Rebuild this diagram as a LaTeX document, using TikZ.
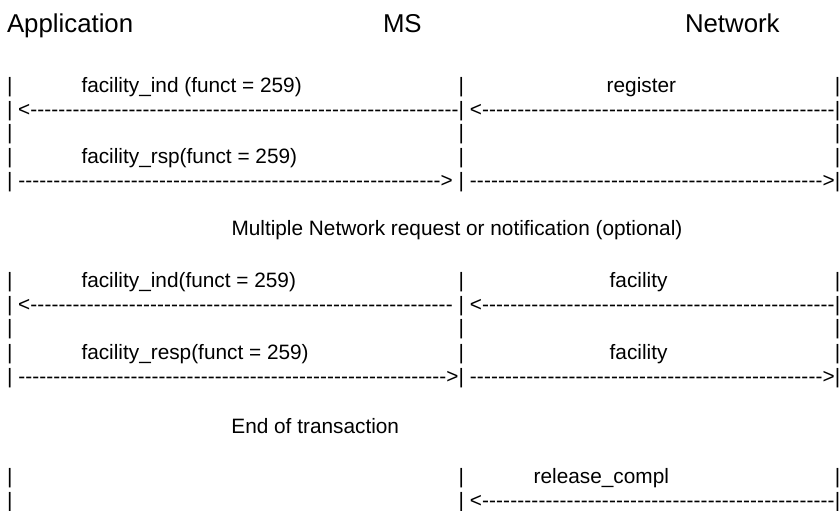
\documentclass[tikz,border=0pt]{standalone}
\usepackage{fontspec}
\setmainfont{Liberation Sans}
\newcommand\bodyfont{\fontsize{20.8bp}{24bp}\selectfont}
\newcommand\headfont{\fontsize{25.8bp}{30bp}\selectfont}
\newcommand\dashrun[1]{\hbox to #1bp{\xleaders\hbox{-}\hfill}}
\begin{document}
\begin{tikzpicture}[x=1bp,y=-1bp,
  every node/.style={inner sep=0pt,outer sep=0pt,anchor=base west},
  txt/.style={font=\bodyfont},
  hdr/.style={font=\headfont}]
\fill[white] (0,0) rectangle (839,511);
\useasboundingbox (0,0) rectangle (839,511);
% headers
\node[hdr] (app) at (7,32.5) {Application};
\node[hdr] (ms) at (383,32.5) {MS};
\node[hdr] (net) at (685,32.5) {Network};
% row 1
\node[txt] (l1) at (7,93) {|};
\node[txt] (t1) at (81.5,93) {facility\_ind (funct = 259)};
\node[txt] (m1) at (458.6,93) {|};
\node[txt] (u1) at (606.7,93) {register};
\node[txt] (r1) at (834.8,93) {|};
% row 2
\node[txt] (l2) at (7,116.5) {|};
\node[txt] (a2) at (18.19,116.5) {<};
\node[txt] (d2) at (30.34,116.5) {\dashrun{428.26}};
\node[txt] (m2) at (458.6,116.5) {|};
\node[txt] (b2) at (469.79,116.5) {<};
\node[txt] (e2) at (481.94,116.5) {\dashrun{352.86}};
\node[txt] (r2) at (834.8,116.5) {|};
% row 3
\node[txt] (l3) at (7,140) {|};
\node[txt] (m3) at (458.6,140) {|};
\node[txt] (r3) at (834.8,140) {|};
% row 4
\node[txt] (l4) at (7,163.5) {|};
\node[txt] (t4) at (81.5,163.5) {facility\_rsp(funct = 259)};
\node[txt] (m4) at (458.6,163.5) {|};
\node[txt] (r4) at (834.8,163.5) {|};
% row 5
\node[txt] (l5) at (7,187.5) {|};
\node[txt] (d5) at (18.19,187.5) {\dashrun{422.48}};
\node[txt] (a5) at (440.67,187.5) {>};
\node[txt] (m5) at (458.6,187.5) {|};
\node[txt] (e5) at (469.79,187.5) {\dashrun{352.86}};
\node[txt] (b5) at (822.65,187.5) {>};
\node[txt] (r5) at (834.8,187.5) {|};
% middle note
\node[txt] (mult) at (231.5,236) {Multiple Network request or notification (optional)};
% row 6
\node[txt] (l6) at (7,287.5) {|};
\node[txt] (t6) at (81.5,287.5) {facility\_ind(funct = 259)};
\node[txt] (m6) at (458.6,287.5) {|};
\node[txt] (u6) at (609.7,287.5) {facility};
\node[txt] (r6) at (834.8,287.5) {|};
% row 7
\node[txt] (l7) at (7,311.5) {|};
\node[txt] (a7) at (18.19,311.5) {<};
\node[txt] (d7) at (30.34,311.5) {\dashrun{422.48}};
\node[txt] (m7) at (458.6,311.5) {|};
\node[txt] (b7) at (469.79,311.5) {<};
\node[txt] (e7) at (481.94,311.5) {\dashrun{352.86}};
\node[txt] (r7) at (834.8,311.5) {|};
% row 8
\node[txt] (l8) at (7,335) {|};
\node[txt] (m8) at (458.6,335) {|};
\node[txt] (r8) at (834.8,335) {|};
% row 9
\node[txt] (l9) at (7,359) {|};
\node[txt] (t9) at (81.5,359) {facility\_resp(funct = 259)};
\node[txt] (m9) at (458.6,359) {|};
\node[txt] (u9) at (609.7,359) {facility};
\node[txt] (r9) at (834.8,359) {|};
% row 10
\node[txt] (l10) at (7,383.5) {|};
\node[txt] (d10) at (18.19,383.5) {\dashrun{428.26}};
\node[txt] (a10) at (446.45,383.5) {>};
\node[txt] (m10) at (458.6,383.5) {|};
\node[txt] (e10) at (469.79,383.5) {\dashrun{352.86}};
\node[txt] (b10) at (822.65,383.5) {>};
\node[txt] (r10) at (834.8,383.5) {|};
% end note
\node[txt] (endt) at (231.4,433) {End of transaction};
% row 11
\node[txt] (l11) at (7,483.5) {|};
\node[txt] (m11) at (458.6,483.5) {|};
\node[txt] (u11) at (533.7,483.5) {release\_compl};
\node[txt] (r11) at (834.8,483.5) {|};
% row 12
\node[txt] (l12) at (7,507) {|};
\node[txt] (m12) at (458.6,507) {|};
\node[txt] (b12) at (469.79,507) {<};
\node[txt] (e12) at (481.94,507) {\dashrun{352.86}};
\node[txt] (r12) at (834.8,507) {|};
\end{tikzpicture}
\end{document}
